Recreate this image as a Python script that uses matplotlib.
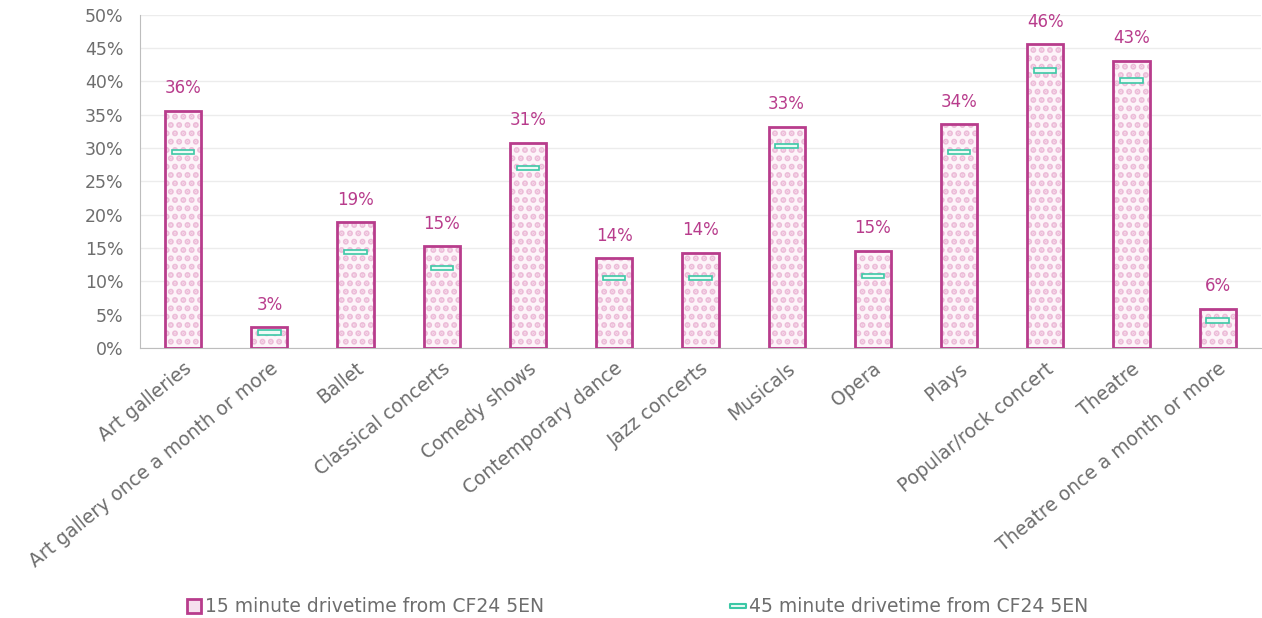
import numpy as np
import matplotlib
matplotlib.use("Agg")
import matplotlib.pyplot as plt
import matplotlib.ticker as mticker
from matplotlib.lines import Line2D
from matplotlib.path import Path

# data (percent)
categories = ["Art galleries", "Art gallery once a month or more", "Ballet",
              "Classical concerts", "Comedy shows", "Contemporary dance",
              "Jazz concerts", "Musicals", "Opera", "Plays",
              "Popular/rock concert", "Theatre", "Theatre once a month or more"]
drive_15 = [35.6, 3.1, 18.9, 15.3, 30.8, 13.5, 14.3, 33.2, 14.6, 33.6, 45.6, 43.1, 5.9]
drive_45 = [29.4, 2.3, 14.4, 12.0, 27.0, 10.5, 10.5, 30.3, 10.8, 29.4, 41.6, 40.1, 4.1]
yticks = [0, 5, 10, 15, 20, 25, 30, 35, 40, 45, 50]

MAGENTA = "#b83c8c"
PINK = "#ecbcd8"
TEAL = "#3cc8a6"
GRAY = "#6e6e6e"

plt.rcParams["font.family"] = ["DejaVu Sans"]
plt.rcParams["hatch.linewidth"] = 3.0

fig = plt.figure(figsize=(12.62, 6.18), dpi=100)
ax = fig.add_axes([0.111, 0.437, 0.888, 0.539])

x = np.arange(len(categories))
w = 0.42

# dotted fill, then outline on top
ax.bar(x, drive_15, w, color="#fdf4f9", edgecolor=PINK, hatch="..",
       linewidth=0, zorder=2)
ax.bar(x, drive_15, w, fill=False, edgecolor=MAGENTA, linewidth=2, zorder=3)

# 45 minute marker: short flat box at the value
mh = 0.7
ax.bar(x, mh, 0.26, bottom=np.array(drive_45) - mh / 2, color="#eefaf6",
       edgecolor=TEAL, linewidth=1.2, zorder=4)

for xi, v in zip(x, drive_15):
    ax.text(xi, v + 2.0, f"{round(v):.0f}%", ha="center", va="bottom",
            color=MAGENTA, fontsize=12)

ax.set_xlim(-0.5, len(categories) - 0.5)
ax.set_ylim(0, 50)
ax.set_yticks(yticks)
ax.yaxis.set_major_formatter(mticker.FuncFormatter(lambda v, p: f"{v:.0f}%"))
ax.set_xticks(x)
ax.set_xticklabels(categories, rotation=39, ha="right", rotation_mode="anchor",
                   fontsize=13.5, color=GRAY)
ax.tick_params(axis="y", length=0, labelsize=12.5, labelcolor=GRAY, pad=12)
ax.tick_params(axis="x", length=0, pad=8)
ax.grid(axis="y", color="#ececec", linewidth=1, zorder=0)
ax.set_axisbelow(True)
for s in ["top", "right"]:
    ax.spines[s].set_visible(False)
ax.spines["left"].set_color("#bdbdbd")
ax.spines["bottom"].set_color("#bdbdbd")

# legend
flat = Path([(-0.5, -0.14), (0.5, -0.14), (0.5, 0.14), (-0.5, 0.14), (-0.5, -0.14)],
            [Path.MOVETO, Path.LINETO, Path.LINETO, Path.LINETO, Path.CLOSEPOLY])
h1 = Line2D([], [], linestyle="none", marker="s", markersize=10,
            markerfacecolor="#f6e1ee", markeredgecolor=MAGENTA, markeredgewidth=2)
h2 = Line2D([], [], linestyle="none", marker=flat, markersize=12,
            markerfacecolor="#eefaf6", markeredgecolor=TEAL, markeredgewidth=1.5)
fig.legend([h1, h2], ["15 minute drivetime from CF24 5EN",
                      "45 minute drivetime from CF24 5EN"],
           loc="center", bbox_to_anchor=(0.505, 0.018), ncol=2, frameon=False,
           fontsize=13.5, labelcolor=GRAY, handlelength=0.8,
           handletextpad=0.2, columnspacing=9.9)

fig.savefig("out.png", dpi=100)
